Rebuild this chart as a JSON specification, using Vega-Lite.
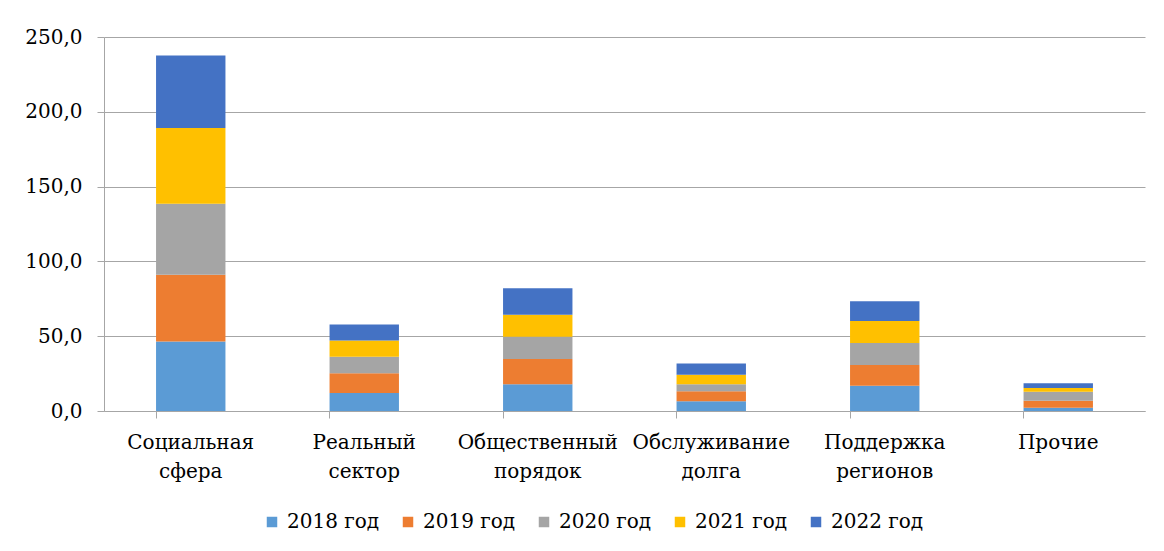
{
  "$schema": "https://vega.github.io/schema/vega-lite/v6.json",
  "autosize": {"type": "none"},
  "width": 1041,
  "height": 374,
  "padding": {"left": 104, "top": 37, "right": 19, "bottom": 140},
  "background": "white",
  "config": {
    "view": {"stroke": null},
    "font": "DejaVu Serif",
    "axis": {"labelFont": "DejaVu Serif"},
    "legend": {"labelFont": "DejaVu Serif"}
  },
  "data": {
    "values": [
      {"category": "Социальная сфера", "year": "2018 год", "value": 46.4},
      {"category": "Социальная сфера", "year": "2019 год", "value": 44.6},
      {"category": "Социальная сфера", "year": "2020 год", "value": 47.6},
      {"category": "Социальная сфера", "year": "2021 год", "value": 50.6},
      {"category": "Социальная сфера", "year": "2022 год", "value": 48.4},
      {"category": "Реальный сектор", "year": "2018 год", "value": 12.0},
      {"category": "Реальный сектор", "year": "2019 год", "value": 13.2},
      {"category": "Реальный сектор", "year": "2020 год", "value": 11.1},
      {"category": "Реальный сектор", "year": "2021 год", "value": 10.8},
      {"category": "Реальный сектор", "year": "2022 год", "value": 10.7},
      {"category": "Общественный порядок", "year": "2018 год", "value": 17.9},
      {"category": "Общественный порядок", "year": "2019 год", "value": 16.9},
      {"category": "Общественный порядок", "year": "2020 год", "value": 14.9},
      {"category": "Общественный порядок", "year": "2021 год", "value": 14.6},
      {"category": "Общественный порядок", "year": "2022 год", "value": 17.8},
      {"category": "Обслуживание долга", "year": "2018 год", "value": 6.5},
      {"category": "Обслуживание долга", "year": "2019 год", "value": 6.7},
      {"category": "Обслуживание долга", "year": "2020 год", "value": 4.7},
      {"category": "Обслуживание долга", "year": "2021 год", "value": 6.4},
      {"category": "Обслуживание долга", "year": "2022 год", "value": 7.4},
      {"category": "Поддержка регионов", "year": "2018 год", "value": 16.9},
      {"category": "Поддержка регионов", "year": "2019 год", "value": 13.9},
      {"category": "Поддержка регионов", "year": "2020 год", "value": 14.7},
      {"category": "Поддержка регионов", "year": "2021 год", "value": 14.7},
      {"category": "Поддержка регионов", "year": "2022 год", "value": 13.2},
      {"category": "Прочие", "year": "2018 год", "value": 2.2},
      {"category": "Прочие", "year": "2019 год", "value": 4.7},
      {"category": "Прочие", "year": "2020 год", "value": 6.0},
      {"category": "Прочие", "year": "2021 год", "value": 2.5},
      {"category": "Прочие", "year": "2022 год", "value": 3.1}
    ]
  },
  "mark": {"type": "bar"},
  "encoding": {
    "x": {
      "field": "category",
      "type": "nominal",
      "sort": null,
      "scale": {"paddingInner": 0.6, "paddingOuter": 0.3},
      "axis": {
        "title": null,
        "labelAngle": 0,
        "labelFontSize": 20,
        "labelColor": "#000000",
        "labelPadding": 14,
        "labelLineHeight": 29,
        "labelExpr": "split(datum.label, ' ')",
        "domainColor": "#a6a6a6",
        "tickColor": "#a6a6a6",
        "tickSize": 7,
        "bandPosition": 0,
        "labelBound": false,
        "labelOverlap": false
      }
    },
    "y": {
      "field": "value",
      "type": "quantitative",
      "aggregate": "sum",
      "stack": "zero",
      "scale": {"domain": [0, 250], "nice": false},
      "axis": {
        "title": null,
        "values": [0, 50, 100, 150, 200, 250],
        "labelExpr": "replace(format(datum.value, '.1f'), '.', ',')",
        "labelFontSize": 20,
        "labelColor": "#000000",
        "labelPadding": 15,
        "tickSize": 7,
        "tickColor": "#a6a6a6",
        "domainColor": "#a6a6a6",
        "gridColor": "#a6a6a6",
        "gridWidth": 1
      }
    },
    "color": {
      "field": "year",
      "type": "nominal",
      "scale": {
        "domain": ["2018 год", "2019 год", "2020 год", "2021 год", "2022 год"],
        "range": ["#5B9BD5", "#ED7D31", "#A5A5A5", "#FFC000", "#4472C4"]
      },
      "legend": {
        "title": null,
        "orient": "none",
        "direction": "horizontal",
        "legendX": 158,
        "legendY": 475,
        "symbolType": "square",
        "symbolSize": 110,
        "symbolStrokeWidth": 0,
        "labelFontSize": 20,
        "labelColor": "#000000",
        "columnPadding": 18,
        "labelOffset": 5
      }
    },
    "order": {"field": "year", "sort": "ascending"}
  }
}
